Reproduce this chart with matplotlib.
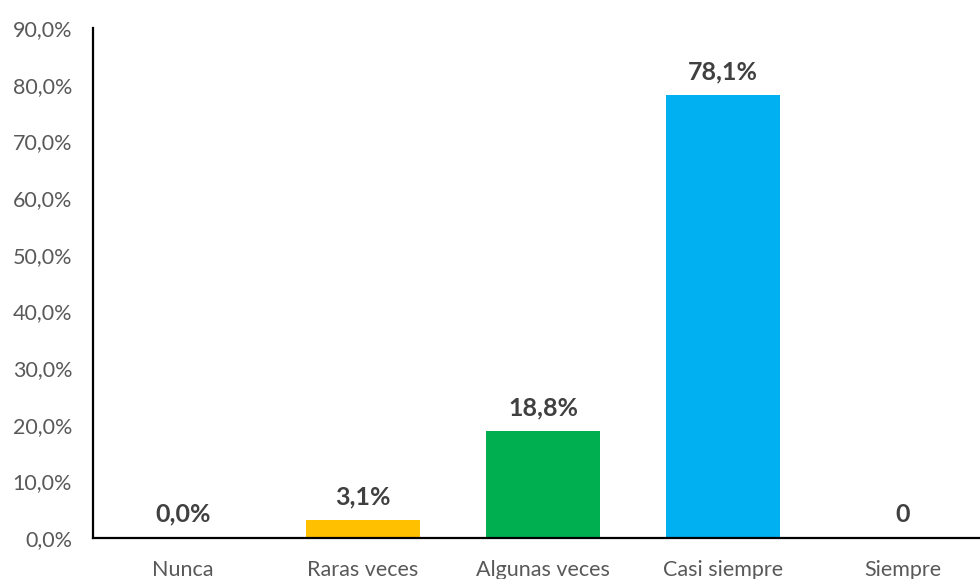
import matplotlib
matplotlib.use("Agg")
import matplotlib.pyplot as plt
import numpy as np

# data
categories = ["Nunca", "Raras veces", "Algunas veces", "Casi siempre", "Siempre"]
values = [0.0, 3.1, 18.8, 78.1, 0.0]
value_labels = ["0,0%", "3,1%", "18,8%", "78,1%", "0"]
colors = ["#FFC000", "#FFC000", "#00B050", "#00B0F0", "#00B0F0"]
y_ticks = [0, 10, 20, 30, 40, 50, 60, 70, 80, 90]

plt.rcParams['font.family'] = ['Lato', 'DejaVu Sans']

fig = plt.figure(figsize=(9.8, 5.79), dpi=100)
# the plot area runs past the right edge in the reference
ax = fig.add_axes([93/980, 1 - 538/579, 900/980, 510/579])

x = np.arange(len(categories))
ax.bar(x, values, width=0.633, color=colors, zorder=2)

for xi, v, lab in zip(x, values, value_labels):
    ax.annotate(lab, (xi, v), xytext=(0, 9), textcoords="offset points",
                ha="center", va="bottom", fontsize=18, fontweight="bold",
                color="#404040")

ax.set_xlim(-0.5, len(categories) - 0.5)
ax.set_ylim(0, 90)
ax.set_yticks(y_ticks)
ax.set_yticklabels([f"{t},0%" for t in y_ticks])
ax.set_xticks(x)
ax.set_xticklabels(categories)

ax.tick_params(axis="both", length=0, labelsize=15.5, labelcolor="#595959")
ax.tick_params(axis="y", pad=15)
ax.tick_params(axis="x", pad=16)

for side in ["top", "right"]:
    ax.spines[side].set_visible(False)
for side in ["left", "bottom"]:
    ax.spines[side].set_linewidth(1.6)
    ax.spines[side].set_color("black")

fig.savefig("out.png", dpi=100)
